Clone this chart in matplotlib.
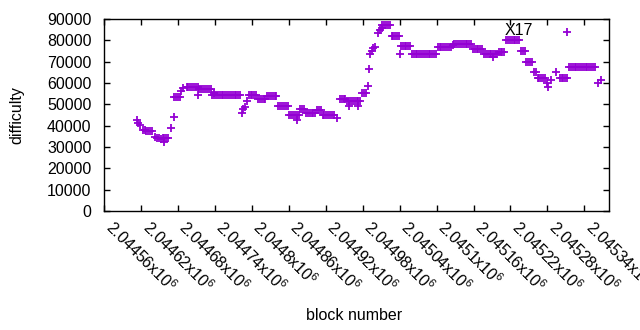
import matplotlib
matplotlib.use("Agg")
import matplotlib.pyplot as plt
from matplotlib.ticker import FixedLocator, FixedFormatter

plt.rcParams['font.family'] = ['Liberation Sans', 'DejaVu Sans']
plt.rcParams['mathtext.fontset'] = 'custom'
plt.rcParams['mathtext.rm'] = 'Liberation Sans'
plt.rcParams['mathtext.it'] = 'Liberation Sans'

# block numbers and difficulty values
blocks = [
    2044613, 2044616, 2044618,
    2044623, 2044626, 2044629, 2044632, 2044635, 2044638,
    2044643,
    2044646, 2044649, 2044652, 2044655, 2044658, 2044661, 2044664,
    2044658,
    2044669, 2044673,
    2044674, 2044677, 2044680, 2044683,
    2044685, 2044689,
    2044694, 2044697, 2044700, 2044703, 2044706, 2044709, 2044712,
    2044713,
    2044715, 2044718, 2044721, 2044724, 2044727, 2044730, 2044733,
    2044738,
    2044736, 2044739, 2044742, 2044745, 2044748, 2044751, 2044754, 2044757,
    2044760, 2044763, 2044766, 2044769, 2044772, 2044775, 2044778, 2044781,
    2044784, 2044786, 2044789, 2044793,
    2044795, 2044798, 2044801, 2044804, 2044807,
    2044810, 2044813, 2044816, 2044819, 2044822,
    2044825, 2044828, 2044831, 2044834, 2044837, 2044840,
    2044843, 2044846, 2044849, 2044852, 2044855, 2044858,
    2044861, 2044864, 2044867, 2044870, 2044873, 2044876,
    2044874,
    2044879, 2044882, 2044885,
    2044888, 2044891, 2044894, 2044897, 2044900, 2044903,
    2044906, 2044909, 2044912,
    2044915, 2044918, 2044921, 2044924, 2044927, 2044930, 2044933,
    2044938,
    2044943, 2044946, 2044949, 2044952,
    2044955, 2044958, 2044961, 2044964, 2044967, 2044970, 2044973, 2044976,
    2044958, 2044973,
    2044979, 2044982, 2044985,
    2044988, 2044990, 2044992, 2044995, 2044997, 2045000,
    2045005, 2045008, 2045011,
    2045012, 2045015, 2045018, 2045021, 2045024,
    2045027, 2045030, 2045033, 2045036, 2045039,
    2045041,
    2045042, 2045045, 2045048, 2045051, 2045054, 2045057,
    2045060, 2045063, 2045066, 2045069, 2045072, 2045075, 2045078,
    2045081, 2045084, 2045087, 2045090, 2045093, 2045096, 2045099,
    2045102, 2045105, 2045108, 2045111, 2045114, 2045117, 2045120, 2045123,
    2045126,
    2045129, 2045132, 2045135, 2045138, 2045141, 2045144, 2045147, 2045150, 2045153, 2045156,
    2045159, 2045162, 2045165, 2045168, 2045171, 2045174,
    2045177, 2045180, 2045183, 2045186, 2045189, 2045192, 2045195, 2045198,
    2045192,
    2045201, 2045204, 2045207, 2045210,
    2045213, 2045216, 2045219, 2045222, 2045225, 2045228, 2045231, 2045234,
    2045237, 2045240, 2045243,
    2045246, 2045249, 2045252, 2045255,
    2045258, 2045261,
    2045264, 2045267, 2045270, 2045273, 2045276,
    2045279, 2045281, 2045286, 2045294,
    2045300, 2045303, 2045306, 2045309, 2045312,
    2045312,
    2045315, 2045318, 2045321, 2045324, 2045327, 2045330, 2045333, 2045336,
    2045339, 2045342, 2045345, 2045348, 2045351, 2045354, 2045357,
    2045362, 2045367,
]
difficulty = [
    42700, 41100, 40300,
    37900, 37800, 37700, 37600, 37600, 37500,
    34800,
    34000, 34000, 33900, 34000, 34000, 34000, 34000,
    32500,
    38800, 43900,
    53300, 53300, 53300, 53300,
    56300, 57500,
    58300, 58300, 58300, 58300, 58300, 58300, 58300,
    54400,
    57000, 57000, 57000, 57000, 57000, 57000, 57000,
    55200,
    54600, 54600, 54600, 54600, 54600, 54600, 54600, 54600,
    54600, 54600, 54600, 54600, 54600, 54600, 54600, 54600,
    45800, 47700, 48900, 51700,
    54200, 54200, 54200, 54200, 54200,
    52400, 52400, 52400, 52400, 52400,
    53800, 53800, 53800, 53800, 53800, 53800,
    49100, 49100, 49100, 49100, 49100, 49100,
    44900, 44900, 44900, 44900, 44900, 44900,
    42700,
    47800, 47800, 47800,
    46100, 46100, 46100, 46100, 46100, 46100,
    47300, 47300, 47300,
    44900, 44900, 44900, 44900, 44900, 44900, 44900,
    43500,
    52400, 52400, 52400, 52400,
    51500, 51500, 51500, 51500, 51500, 51500, 51500, 51500,
    49200, 49200,
    55500, 55500, 55500,
    58600, 66400, 73400, 75000, 76300, 77000,
    83300, 84800, 85900,
    87400, 87400, 87400, 87400, 87400,
    81900, 81900, 81900, 81900, 81900,
    73400,
    77200, 77200, 77200, 77200, 77200, 77200,
    73400, 73400, 73400, 73400, 73400, 73400, 73400,
    73400, 73400, 73400, 73400, 73400, 73400, 73400,
    76700, 76700, 76700, 76700, 76700, 76700, 76700, 76700,
    77600,
    78200, 78200, 78200, 78200, 78200, 78200, 78200, 78200, 78200, 78200,
    75800, 75800, 75800, 75800, 75800, 75800,
    73700, 73700, 73700, 73700, 73700, 73700, 73700, 73700,
    72000,
    74700, 74700, 74700, 74700,
    80300, 80300, 80300, 80300, 80300, 80300, 80300, 80300,
    74900, 74900, 74900,
    69700, 69700, 69700, 69700,
    65100, 65100,
    62200, 62200, 62200, 62200, 62200,
    59900, 58300, 61400, 65000,
    62200, 62200, 62200, 62200, 62200,
    83800,
    67300, 67300, 67300, 67300, 67300, 67300, 67300, 67300,
    67300, 67300, 67300, 67300, 67300, 67300, 67300,
    59900, 61400,
]

x_ticks = [2044560, 2044620, 2044680, 2044740, 2044800, 2044860, 2044920,
           2044980, 2045040, 2045100, 2045160, 2045220, 2045280, 2045340]
x_tick_labels = ["2.04456", "2.04462", "2.04468", "2.04474", "2.0448", "2.04486",
                 "2.04492", "2.04498", "2.04504", "2.0451", "2.04516", "2.04522",
                 "2.04528", "2.04534"]
y_ticks = [0, 10000, 20000, 30000, 40000, 50000, 60000, 70000, 80000, 90000]

label_text = "X17"
label_x = 2045211
label_y = 84400

color = '#9400D3'

fig = plt.figure(figsize=(6.4, 3.3), dpi=100)
ax = fig.add_axes([104/640, 1 - 211/330, (609-104)/640, (211-19)/330])

ax.plot(blocks, difficulty, linestyle='none', marker='+', color=color,
        markersize=6, markeredgewidth=1.3)

ax.set_xlim(2044560, 2045380)
ax.set_ylim(0, 90000)

ax.xaxis.set_major_locator(FixedLocator(x_ticks))
ax.xaxis.set_major_formatter(FixedFormatter([t + r"x10$^{6}$" for t in x_tick_labels]))
ax.set_yticks(y_ticks)
ax.set_yticklabels([str(v) for v in y_ticks])

ax.tick_params(direction='in', length=4, width=1, top=True, right=True,
               labelsize=11.5, colors='black')
ax.tick_params(axis='x', pad=13)
ax.tick_params(axis='y', pad=9)
for lab in ax.get_xticklabels():
    lab.set_rotation(-45)
    lab.set_ha('left')
    lab.set_va('baseline')
    lab.set_rotation_mode('anchor')
for s in ax.spines.values():
    s.set_linewidth(1.0)

ax.text(label_x, label_y, label_text, fontsize=11.5, ha='left', va='center')

fig.text(17/640, 1 - 115/330, "difficulty", rotation=90, ha='center', va='center', fontsize=11.5)
fig.text(354/640, 1 - 315/330, "block number", ha='center', va='center', fontsize=11.5)

fig.savefig("out.png", dpi=100)
